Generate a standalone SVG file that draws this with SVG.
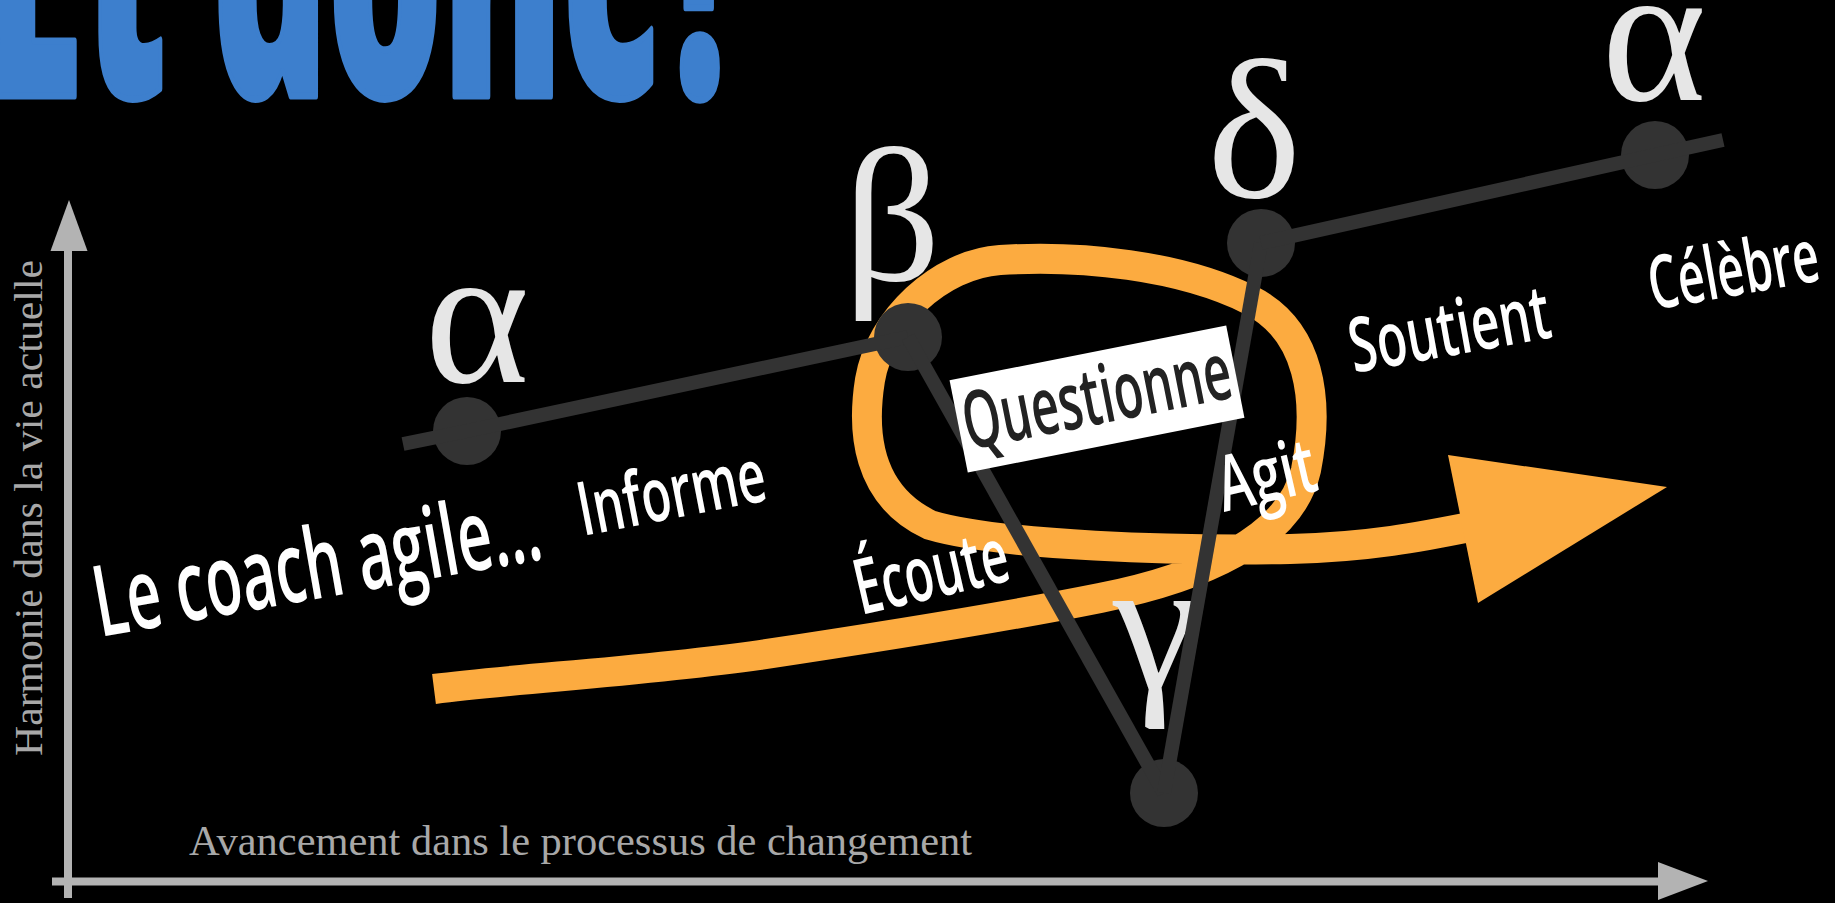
<svg xmlns="http://www.w3.org/2000/svg" width="1835" height="903" viewBox="0 0 1835 903">
<style>
.title{font-family:'Open Sans','Noto Sans',sans-serif;font-weight:800;fill:#3d7fcd;stroke:#3d7fcd;stroke-width:7;stroke-linejoin:round}
.lbl{font-family:'Open Sans','Noto Sans',sans-serif;font-weight:600;fill:#ffffff}
.qlbl{font-family:'Open Sans','Noto Sans',sans-serif;font-weight:600;fill:#222222;text-anchor:middle}
.greek{font-family:'Liberation Serif','DejaVu Serif',serif;fill:#e6e6e6;text-anchor:middle}
.node circle{fill:#333333}
.conn{stroke:#333333;stroke-width:14;fill:none;stroke-linecap:butt;stroke-linejoin:round}
.axis{stroke:#b3b3b3;stroke-width:8}
.axhead{fill:#b3b3b3}
.axlbl{font-family:'Liberation Serif','DejaVu Serif',serif;fill:#a8a8a8}
.flow{stroke:#fcab40;stroke-width:30;fill:none;stroke-linecap:butt}
.flowhead{fill:#fcab40}
</style>
<rect x="0" y="0" width="1835" height="903" fill="#000000"/>

<text class="title" x="-15" y="96" font-size="350" textLength="765" lengthAdjust="spacingAndGlyphs">Et donc?</text>

<g id="axes">
  <line class="axis" x1="68" y1="898" x2="68" y2="248"/>
  <polygon class="axhead" points="69,200 87.5,251 50.5,251"/>
  <line class="axis" x1="52" y1="881.5" x2="1662" y2="881.5"/>
  <polygon class="axhead" points="1658,862 1708,881 1658,900"/>
  <text class="axlbl" transform="translate(42,756) rotate(-90)" x="0" y="0" font-size="39" textLength="496" lengthAdjust="spacingAndGlyphs">Harmonie dans la vie actuelle</text>
  <text class="axlbl" x="189" y="855" font-size="42" textLength="783" lengthAdjust="spacingAndGlyphs">Avancement dans le processus de changement</text>
</g>

<g id="flow">
  <path class="flow" d="M434,689 C520,678 640,672 760,655 C880,637 1000,618 1100,598 C1200,578 1290,540 1306,470 C1320,400 1310,330 1250,300 C1180,265 1080,255 1000,260 C940,264 880,320 870,380 C862,430 866,495 930,525 C1000,546 1180,551 1290,549 C1370,547 1420,537 1475,526"/>
  <polygon class="flowhead" points="1448,455 1667,487 1478,603"/>
</g>

<g id="node-alpha1" class="node">
  <text class="greek" x="477" y="382" font-size="200">α</text>
  <circle cx="467" cy="431" r="34"/>
</g>
<g id="node-beta" class="node">
  <text class="greek" x="892" y="280" font-size="191">β</text>
  <circle cx="908" cy="337" r="34"/>
</g>
<g id="node-gamma" class="node">
  <text class="greek" x="1155" y="688" font-size="190">γ</text>
  <circle cx="1164" cy="793" r="34"/>
</g>
<g id="node-delta" class="node">
  <text class="greek" x="1254" y="197" font-size="200">δ</text>
  <circle cx="1261" cy="243" r="34"/>
</g>
<g id="node-alpha2" class="node">
  <text class="greek" x="1654" y="100" font-size="200">α</text>
  <circle cx="1655" cy="155" r="34"/>
</g>

<g id="connectors">
  <polyline class="conn" points="403,444 467,431 908,337"/>
  <line class="conn" x1="908" y1="337" x2="1164" y2="793"/>
  <line class="conn" x1="1164" y1="793" x2="1261" y2="243"/>
  <polyline class="conn" points="1261,243 1655,155 1723,140"/>
</g>

<g id="labels">
  <text class="lbl" transform="translate(100,637) rotate(-10)" x="0" y="0" font-size="99" textLength="452" lengthAdjust="spacingAndGlyphs">Le coach agile...</text>
  <text class="lbl" transform="translate(583,536) rotate(-11)" x="0" y="0" font-size="75" textLength="190" lengthAdjust="spacingAndGlyphs">Informe</text>
  <text class="lbl" transform="translate(861,615) rotate(-13)" x="0" y="0" font-size="77" textLength="156" lengthAdjust="spacingAndGlyphs">Écoute</text>
  <text class="lbl" transform="translate(1224,512) rotate(-13)" x="0" y="0" font-size="77" textLength="99" lengthAdjust="spacingAndGlyphs">Agit</text>
  <text class="lbl" transform="translate(1354,373) rotate(-10.2)" x="0" y="0" font-size="76" textLength="203" lengthAdjust="spacingAndGlyphs">Soutient</text>
  <text class="lbl" transform="translate(1653,310) rotate(-10)" x="0" y="0" font-size="74" textLength="172" lengthAdjust="spacingAndGlyphs">Célèbre</text>
</g>

<g id="questionne" transform="translate(1097,399) rotate(-11.2)">
  <rect x="-141" y="-47" width="282" height="94" fill="#ffffff"/>
  <text class="qlbl" x="0" y="25" font-size="80" textLength="272" lengthAdjust="spacingAndGlyphs">Questionne</text>
</g>
</svg>
